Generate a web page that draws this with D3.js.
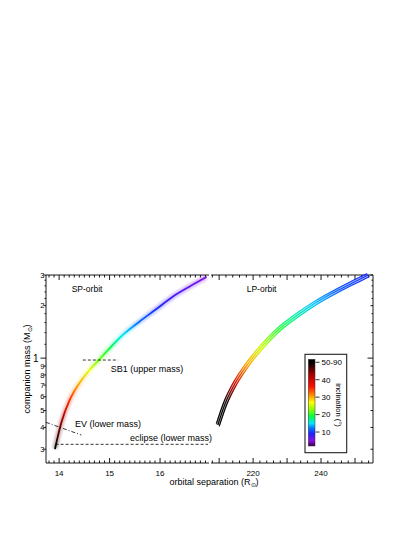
<!DOCTYPE html>
<meta charset="utf-8">
<script src="https://d3js.org/d3.v7.min.js"></script>
<style>
  body { margin: 0; background: #fff; }
  text { font-family: "Liberation Sans", Arial, sans-serif; fill: #000; }
</style>
<body>
<div id="chart"></div>
<script>
// ---- data ----
// short-period orbit: separation (R_sun), companion mass (M_sun), inclination (deg)
var spSep  = [13.92, 14.05, 14.21, 14.40, 14.60, 14.79, 15.00, 15.26, 15.59, 15.92, 16.25, 16.58, 16.91];
var spMass = [0.303, 0.432, 0.575, 0.717, 0.855, 0.976, 1.139, 1.357, 1.619, 1.906, 2.25, 2.571, 2.91];
var spInc  = [55, 44, 35, 30, 26, 22, 19, 15, 11.5, 9.5, 7.5, 6.5, 5.5];

// long-period orbit
var lpSep  = [209.6, 211.8, 214.7, 218.6, 222.6, 227.4, 232.4, 238.2, 245.1, 251.0, 253.9];
var lpMass = [0.413, 0.550, 0.717, 0.934, 1.163, 1.451, 1.729, 2.064, 2.458, 2.808, 3.0];
var lpInc  = [60, 52, 40, 30, 25, 20, 17, 14, 11, 10, 9.5];

// limit lines
var sb1Sep = [14.47, 15.17], sb1Mass = [0.975, 0.975];
var evSep  = [13.74, 14.44], evMass  = [0.428, 0.362];
var eclSep = [13.93, 16.95], eclMass = [0.320, 0.320];

// tick values / labels
var yLabelTicks = [0.3, 0.4, 0.5, 0.6, 0.7, 0.8, 0.9, 2, 3];
var yLabels     = ["3", "4", "5", "6", "7", "8", "9", "2", "3"];
var yTinyTicks  = [1.2, 1.4, 1.6, 1.8, 2.2, 2.4, 2.6, 2.8];
var xLeftLabels  = [14, 15, 16];
var xRightLabels = [220, 240];
var cbTicks  = [10, 20, 30, 40, 50];
var cbLabels = ["10", "20", "30", "40", "50-90"];

// colour table (inclination -> colour)
var cmapInc = [2, 5, 9, 12, 15, 19, 23, 27, 31, 36, 43, 50];
var cmapCol = ["#3a0050", "#8a10e0", "#2020ff", "#0070ff", "#00e8ff", "#00ff40",
               "#90ff00", "#ffff00", "#ff9000", "#ff1000", "#a80000", "#000000"];

var W = 415, H = 537;
var svg = d3.select("#chart").append("svg").attr("width", W).attr("height", H);
svg.append("rect").attr("width", W).attr("height", H).attr("fill", "#fff");
var defs = svg.append("defs");

var yTop = 275, yBot = 463;
var xL = d3.scaleLinear().domain([13.74, 16.97]).range([46, 209]);
var xR = d3.scaleLinear().domain([207.6, 255.3]).range([211, 373]);
var y = d3.scaleLog().domain([0.25, 3]).range([yBot, yTop]);
var color = d3.scaleLinear().domain(cmapInc).range(cmapCol).clamp(true);

// ---- frame & ticks ----
var frame = svg.append("g").attr("stroke", "#000").attr("stroke-width", 0.9);
function hline(x0, x1, yy) { frame.append("line").attr("x1", x0).attr("x2", x1).attr("y1", yy).attr("y2", yy); }
function vline(xx, y0, y1) { frame.append("line").attr("x1", xx).attr("x2", xx).attr("y1", y0).attr("y2", y1); }
hline(46, 209, yTop); hline(46, 209, yBot);
hline(211, 373, yTop); hline(211, 373, yBot);
vline(46, yTop, yBot); vline(373, yTop, yBot);

// left panel x ticks, every 0.1
d3.range(138, 170).forEach(function(i) {
  var v = i / 10, px = xL(v), len = (i % 10 === 0) ? 5 : 2.5;
  vline(px, yBot, yBot - len);
  vline(px, yTop, yTop + len);
});
// right panel x ticks, every 2
d3.range(208, 256, 2).forEach(function(v) {
  var px = xR(v), len = (v % 10 === 0) ? 5 : 2.5;
  vline(px, yBot, yBot - len);
  vline(px, yTop, yTop + len);
});
svg.selectAll(".xlL").data(xLeftLabels).enter().append("text")
  .attr("x", function(d) { return xL(d); }).attr("y", 476)
  .attr("text-anchor", "middle").style("font-size", "8px").text(function(d) { return d; });
svg.selectAll(".xlR").data(xRightLabels).enter().append("text")
  .attr("x", function(d) { return xR(d); }).attr("y", 476)
  .attr("text-anchor", "middle").style("font-size", "8px").text(function(d) { return d; });

// y ticks: left (outward) and right (inward)
function yTick(v, len) {
  frame.append("line").attr("x1", 46 - len).attr("x2", 46).attr("y1", y(v)).attr("y2", y(v));
  frame.append("line").attr("x1", 373 - len).attr("x2", 373).attr("y1", y(v)).attr("y2", y(v));
}
yTick(1, 5.5);
yLabelTicks.forEach(function(v) { yTick(v, 2.5); });
yTinyTicks.forEach(function(v) { yTick(v, 1.5); });
svg.selectAll(".yl").data(yLabelTicks).enter().append("text")
  .attr("x", 44.5).attr("y", function(d) { return y(d) + 2.6; })
  .attr("text-anchor", "end").style("font-size", "7.5px")
  .text(function(d, i) { return yLabels[i]; });
svg.append("text").attr("x", 38.5).attr("y", y(1) + 3.5)
  .attr("text-anchor", "end").style("font-size", "10px").text("1");

// axis titles
var xt = svg.append("text").attr("x", 214).attr("y", 485).attr("text-anchor", "middle")
  .style("font-size", "9px");
xt.append("tspan").text("orbital separation (R");
xt.append("tspan").attr("dy", 2).style("font-size", "6px").text("\u2299");
xt.append("tspan").attr("dy", -2).text(")");
var yt = svg.append("text").attr("transform", "translate(29.5," + ((yTop + yBot) / 2) + ") rotate(-90)")
  .attr("text-anchor", "middle").style("font-size", "9px");
yt.append("tspan").text("companion mass (M");
yt.append("tspan").attr("dy", 2).style("font-size", "6px").text("\u2299");
yt.append("tspan").attr("dy", -2).text(")");

// ---- curves ----
function rows(seps, masses, incs) {
  return seps.map(function(s, i) { return {sep: s, mass: masses[i], inc: incs[i]}; });
}
function gradient(id, data) {
  var y0 = y(data[0].mass), y1 = y(data[data.length - 1].mass);
  var g = defs.append("linearGradient").attr("id", id).attr("gradientUnits", "userSpaceOnUse")
    .attr("x1", 0).attr("x2", 0).attr("y1", y0).attr("y2", y1);
  data.forEach(function(d) {
    g.append("stop").attr("offset", (y(d.mass) - y0) / (y1 - y0)).attr("stop-color", color(d.inc));
  });
}
defs.append("filter").attr("id", "blur").attr("x", "-20%").attr("y", "-20%")
  .attr("width", "140%").attr("height", "140%")
  .append("feGaussianBlur").attr("stdDeviation", 1.2);

var sp = rows(spSep, spMass, spInc);
var lp = rows(lpSep, lpMass, lpInc);
gradient("gSP", sp);
gradient("gLP", lp);

var lineL = d3.line().x(function(d) { return xL(d.sep); }).y(function(d) { return y(d.mass); })
  .curve(d3.curveMonotoneX);
var lineR = d3.line().x(function(d) { return xR(d.sep); }).y(function(d) { return y(d.mass); })
  .curve(d3.curveMonotoneX);

// SP: soft halo + core
svg.append("path").datum(sp).attr("d", lineL).attr("fill", "none")
  .attr("stroke", "url(#gSP)").attr("stroke-width", 5.5).attr("stroke-opacity", 0.28)
  .attr("filter", "url(#blur)");
svg.append("path").datum(sp).attr("d", lineL).attr("fill", "none")
  .attr("stroke", "url(#gSP)").attr("stroke-width", 1.8).attr("stroke-linecap", "round");

// LP: band drawn as three close strands
svg.append("path").datum(lp).attr("d", lineR).attr("fill", "none")
  .attr("stroke", "url(#gLP)").attr("stroke-width", 4.8).attr("stroke-opacity", 0.35);
[-1.4, 0, 1.4].forEach(function(o) {
  svg.append("path").datum(lp).attr("d", lineR).attr("fill", "none")
    .attr("transform", "translate(" + o + "," + o + ")")
    .attr("stroke", "url(#gLP)").attr("stroke-width", 1.1);
});

// ---- limit lines ----
function limit(seps, masses, dash) {
  svg.append("path").datum(rows(seps, masses, [0, 0]))
    .attr("d", d3.line().x(function(d) { return xL(d.sep); }).y(function(d) { return y(d.mass); }))
    .attr("fill", "none").attr("stroke", "#000").attr("stroke-width", 0.8)
    .attr("stroke-dasharray", dash);
}
limit(sb1Sep, sb1Mass, "3,2");
limit(evSep, evMass, "4,2,1,2");
limit(eclSep, eclMass, "3,2");

function label(x, yy, s, size) {
  svg.append("text").attr("x", x).attr("y", yy).style("font-size", size || "9px").text(s);
}
label(71.7, 291.5, "SP-orbit", "8.5px");
label(246.7, 291.5, "LP-orbit", "8.5px");
label(110.7, 372, "SB1 (upper mass)");
label(75, 427, "EV (lower mass)");
label(130, 441, "eclipse (lower mass)");

// ---- colour bar ----
var cb = svg.append("g");
cb.append("rect").attr("x", 305).attr("y", 354.3).attr("width", 41.7).attr("height", 98.4)
  .attr("fill", "#fff").attr("stroke", "#222").attr("stroke-width", 1.1);
var yc = d3.scaleLinear().domain([2, 51.7]).range([446, 359.3]);
var cg = defs.append("linearGradient").attr("id", "gCB").attr("x1", 0).attr("x2", 0)
  .attr("y1", 1).attr("y2", 0);
cmapInc.forEach(function(v) {
  cg.append("stop").attr("offset", (v - 2) / (51.7 - 2)).attr("stop-color", color(v));
});
cb.append("rect").attr("x", 308.3).attr("y", yc(51.7)).attr("width", 6.7)
  .attr("height", yc(2) - yc(51.7)).attr("fill", "url(#gCB)")
  .attr("stroke", "#333").attr("stroke-width", 0.5);
cbTicks.forEach(function(v, i) {
  cb.append("line").attr("x1", 315.5).attr("x2", 319.5).attr("y1", yc(v)).attr("y2", yc(v))
    .attr("stroke", "#000").attr("stroke-width", 0.8);
  cb.append("text").attr("x", 321.5).attr("y", yc(v) + 2.8).style("font-size", "8px").text(cbLabels[i]);
});
cb.append("text").attr("transform", "translate(336,405) rotate(90)")
  .attr("text-anchor", "middle").style("font-size", "7.5px").text("inclination (\u00b0)");
</script>
</body>
